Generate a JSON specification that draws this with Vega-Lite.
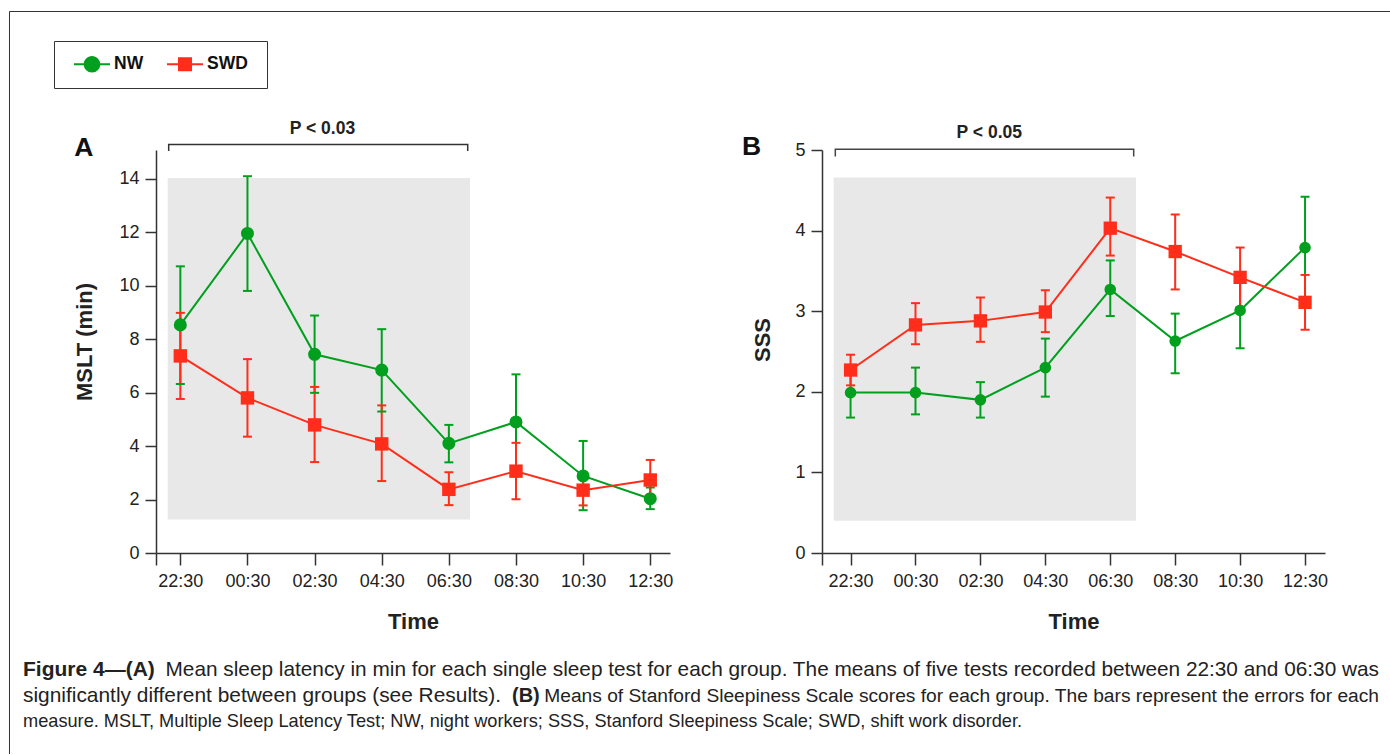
{
  "$schema": "https://vega.github.io/schema/vega-lite/v6.json",
  "padding": {"left": 8, "top": 11, "right": 0, "bottom": 0},
  "background": "white",
  "config": {
    "view": {"stroke": null},
    "font": "Liberation Sans",
    "axis": {
      "domainColor": "#333", "domainWidth": 1.5, "tickColor": "#333", "tickWidth": 1.5, "grid": false,
      "labelFont": "Liberation Sans", "labelFontSize": 18, "labelColor": "#222",
      "titleFont": "Liberation Sans", "titleFontSize": 22, "titleFontWeight": "bold", "titleColor": "#222",
      "labelOverlap": false, "labelFlush": false
    },
    "axisX": {"tickSize": 12, "labelPadding": 7, "titlePadding": 21},
    "axisY": {"tickSize": 11, "labelPadding": 6}
  },
  "datasets": {
    "series": [
      {"panel": "A", "group": "NW", "time": "2000-01-01T22:30", "mean": 8.53, "lo": 6.32, "hi": 10.72},
      {"panel": "A", "group": "NW", "time": "2000-01-02T00:30", "mean": 11.95, "lo": 9.8, "hi": 14.09},
      {"panel": "A", "group": "NW", "time": "2000-01-02T02:30", "mean": 7.43, "lo": 5.99, "hi": 8.88},
      {"panel": "A", "group": "NW", "time": "2000-01-02T04:30", "mean": 6.84, "lo": 5.29, "hi": 8.37},
      {"panel": "A", "group": "NW", "time": "2000-01-02T06:30", "mean": 4.1, "lo": 3.39, "hi": 4.79},
      {"panel": "A", "group": "NW", "time": "2000-01-02T08:30", "mean": 4.9, "lo": 3.1, "hi": 6.68},
      {"panel": "A", "group": "NW", "time": "2000-01-02T10:30", "mean": 2.88, "lo": 1.6, "hi": 4.19},
      {"panel": "A", "group": "NW", "time": "2000-01-02T12:30", "mean": 2.03, "lo": 1.64, "hi": 2.45},
      {"panel": "A", "group": "SWD", "time": "2000-01-01T22:30", "mean": 7.37, "lo": 5.76, "hi": 8.98},
      {"panel": "A", "group": "SWD", "time": "2000-01-02T00:30", "mean": 5.8, "lo": 4.35, "hi": 7.25},
      {"panel": "A", "group": "SWD", "time": "2000-01-02T02:30", "mean": 4.79, "lo": 3.4, "hi": 6.21},
      {"panel": "A", "group": "SWD", "time": "2000-01-02T04:30", "mean": 4.08, "lo": 2.69, "hi": 5.52},
      {"panel": "A", "group": "SWD", "time": "2000-01-02T06:30", "mean": 2.38, "lo": 1.79, "hi": 3.02},
      {"panel": "A", "group": "SWD", "time": "2000-01-02T08:30", "mean": 3.06, "lo": 2.01, "hi": 4.12},
      {"panel": "A", "group": "SWD", "time": "2000-01-02T10:30", "mean": 2.35, "lo": 1.78, "hi": 2.92},
      {"panel": "A", "group": "SWD", "time": "2000-01-02T12:30", "mean": 2.73, "lo": 1.98, "hi": 3.48},
      {"panel": "B", "group": "NW", "time": "2000-01-01T22:30", "mean": 1.99, "lo": 1.68, "hi": 2.3},
      {"panel": "B", "group": "NW", "time": "2000-01-02T00:30", "mean": 1.99, "lo": 1.72, "hi": 2.3},
      {"panel": "B", "group": "NW", "time": "2000-01-02T02:30", "mean": 1.9, "lo": 1.68, "hi": 2.12},
      {"panel": "B", "group": "NW", "time": "2000-01-02T04:30", "mean": 2.3, "lo": 1.94, "hi": 2.66},
      {"panel": "B", "group": "NW", "time": "2000-01-02T06:30", "mean": 3.27, "lo": 2.94, "hi": 3.63},
      {"panel": "B", "group": "NW", "time": "2000-01-02T08:30", "mean": 2.63, "lo": 2.23, "hi": 2.97},
      {"panel": "B", "group": "NW", "time": "2000-01-02T10:30", "mean": 3.01, "lo": 2.54, "hi": 3.48},
      {"panel": "B", "group": "NW", "time": "2000-01-02T12:30", "mean": 3.79, "lo": 3.16, "hi": 4.42},
      {"panel": "B", "group": "SWD", "time": "2000-01-01T22:30", "mean": 2.27, "lo": 2.08, "hi": 2.46},
      {"panel": "B", "group": "SWD", "time": "2000-01-02T00:30", "mean": 2.83, "lo": 2.59, "hi": 3.1},
      {"panel": "B", "group": "SWD", "time": "2000-01-02T02:30", "mean": 2.88, "lo": 2.62, "hi": 3.17},
      {"panel": "B", "group": "SWD", "time": "2000-01-02T04:30", "mean": 2.99, "lo": 2.74, "hi": 3.26},
      {"panel": "B", "group": "SWD", "time": "2000-01-02T06:30", "mean": 4.03, "lo": 3.69, "hi": 4.41},
      {"panel": "B", "group": "SWD", "time": "2000-01-02T08:30", "mean": 3.74, "lo": 3.27, "hi": 4.2},
      {"panel": "B", "group": "SWD", "time": "2000-01-02T10:30", "mean": 3.42, "lo": 3.05, "hi": 3.79},
      {"panel": "B", "group": "SWD", "time": "2000-01-02T12:30", "mean": 3.11, "lo": 2.77, "hi": 3.45}
    ],
    "notes": [
      {"panel": "A", "kind": "shade", "t": "2000-01-01T22:07:24", "t2": "2000-01-02T07:07:48", "v": 1.25, "v2": 14.02},
      {"panel": "A", "kind": "bracket", "k": 0, "t": "2000-01-01T22:09:12", "v": 15.03},
      {"panel": "A", "kind": "bracket", "k": 1, "t": "2000-01-01T22:09:12", "v": 15.28},
      {"panel": "A", "kind": "bracket", "k": 2, "t": "2000-01-02T07:03:42", "v": 15.28},
      {"panel": "A", "kind": "bracket", "k": 3, "t": "2000-01-02T07:03:42", "v": 15.03},
      {"panel": "A", "kind": "ptext", "t": "2000-01-02T02:44:06", "v": 15.668, "label": "P < 0.03"},
      {"panel": "A", "kind": "tag", "t": "2000-01-01T19:37:26", "v": 14.846, "label": "A"},
      {"panel": "B", "kind": "shade", "t": "2000-01-01T21:58:48", "t2": "2000-01-02T07:17:36", "v": 0.4, "v2": 4.66},
      {"panel": "B", "kind": "bracket", "k": 0, "t": "2000-01-01T22:01:48", "v": 4.92},
      {"panel": "B", "kind": "bracket", "k": 1, "t": "2000-01-01T22:01:48", "v": 5.01},
      {"panel": "B", "kind": "bracket", "k": 2, "t": "2000-01-02T07:13:18", "v": 5.01},
      {"panel": "B", "kind": "bracket", "k": 3, "t": "2000-01-02T07:13:18", "v": 4.92},
      {"panel": "B", "kind": "ptext", "t": "2000-01-02T02:46:24", "v": 5.148, "label": "P < 0.05"},
      {"panel": "B", "kind": "tag", "t": "2000-01-01T19:26:54", "v": 4.94, "label": "B"}
    ],
    "caption": [
      {"part": "boldA", "text": "Figure 4—(A)"},
      {"part": "r1", "text": "Mean sleep latency in min for each single sleep test for each group. The means of five tests recorded between 22:30 and 06:30 was"},
      {"part": "l2", "text": "significantly different between groups (see Results)."},
      {"part": "boldB", "text": "(B)"},
      {"part": "r2", "text": "Means of Stanford Sleepiness Scale scores for each group. The bars represent the errors for each"},
      {"part": "l3", "text": "measure. MSLT, Multiple Sleep Latency Test; NW, night workers; SSS, Stanford Sleepiness Scale; SWD, shift work disorder."}
    ]
  },
  "resolve": {"scale": {"color": "independent", "shape": "independent"}},
  "bounds": "flush",
  "spacing": 152,
  "hconcat": [
    {
      "width": 514,
      "height": 403,
      "layer": [
        {
          "data": {"name": "notes"},
          "transform": [{"filter": "datum.panel === 'A' && datum.kind === 'shade'"}],
          "mark": {"type": "rect", "color": "#e8e8e8"},
          "encoding": {
            "x": {"field": "t", "type": "temporal",
              "scale": {"domain": [{"year": 2000, "month": 1, "date": 1, "hours": 21, "minutes": 46, "seconds": 30}, {"year": 2000, "month": 1, "date": 2, "hours": 13, "minutes": 5, "seconds": 18}], "nice": false},
              "axis": {"title": "Time", "labelExpr": "timeFormat(datum.value, '%M') === '30' ? timeFormat(datum.value, '%H:%M') : ''", "values": [
                {"year": 2000, "month": 1, "date": 1, "hours": 21, "minutes": 46, "seconds": 30},
                {"year": 2000, "month": 1, "date": 1, "hours": 22, "minutes": 30},
                {"year": 2000, "month": 1, "date": 2, "hours": 0, "minutes": 30},
                {"year": 2000, "month": 1, "date": 2, "hours": 2, "minutes": 30},
                {"year": 2000, "month": 1, "date": 2, "hours": 4, "minutes": 30},
                {"year": 2000, "month": 1, "date": 2, "hours": 6, "minutes": 30},
                {"year": 2000, "month": 1, "date": 2, "hours": 8, "minutes": 30},
                {"year": 2000, "month": 1, "date": 2, "hours": 10, "minutes": 30},
                {"year": 2000, "month": 1, "date": 2, "hours": 12, "minutes": 30}]}},
            "x2": {"field": "t2"},
            "y": {"field": "v", "type": "quantitative", "scale": {"domain": [0, 15.07], "nice": false, "zero": false},
              "axis": {"title": "MSLT (min)", "values": [0, 2, 4, 6, 8, 10, 12, 14], "format": "d", "titlePadding": 22, "titleY": 191.5}},
            "y2": {"field": "v2"}
          }
        },
        {
          "data": {"name": "notes"},
          "transform": [{"filter": "datum.panel === 'A' && datum.kind === 'bracket'"}],
          "mark": {"type": "line", "color": "#333", "strokeWidth": 1.5},
          "encoding": {"x": {"field": "t", "type": "temporal"}, "y": {"field": "v", "type": "quantitative"}, "order": {"field": "k"}}
        },
        {
          "data": {"name": "notes"},
          "transform": [{"filter": "datum.panel === 'A' && datum.kind === 'ptext'"}],
          "mark": {"type": "text", "align": "center", "baseline": "alphabetic", "font": "Liberation Sans", "fontWeight": "bold", "fontSize": 17.5, "color": "#222"},
          "encoding": {"x": {"field": "t", "type": "temporal"}, "y": {"field": "v", "type": "quantitative"}, "text": {"field": "label"}}
        },
        {
          "data": {"name": "notes"},
          "transform": [{"filter": "datum.panel === 'A' && datum.kind === 'tag'"}],
          "mark": {"type": "text", "align": "center", "baseline": "alphabetic", "font": "Liberation Sans", "fontWeight": "bold", "fontSize": 26.5, "color": "#111"},
          "encoding": {"x": {"field": "t", "type": "temporal"}, "y": {"field": "v", "type": "quantitative"}, "text": {"field": "label"}}
        },
        {
          "data": {"values": [{}]},
          "mark": {"type": "rule", "color": "#333", "strokeWidth": 1},
          "encoding": {
            "x": {"datum": {"year": 2000, "month": 1, "date": 1, "hours": 17, "minutes": 24, "seconds": 37}, "type": "temporal"},
            "y": {"datum": 20.249, "type": "quantitative"},
            "y2": {"datum": -7.516}
          }
        },
        {
          "data": {"values": [{}]},
          "mark": {"type": "rule", "color": "#333", "strokeWidth": 1},
          "encoding": {
            "x": {"datum": {"year": 2000, "month": 1, "date": 1, "hours": 17, "minutes": 24, "seconds": 37}, "type": "temporal"},
            "x2": {"datum": {"year": 2000, "month": 1, "date": 3, "hours": 10, "minutes": 32, "seconds": 21}},
            "y": {"datum": 20.249, "type": "quantitative"}
          }
        },
        {
          "data": {"name": "caption"},
          "transform": [{"filter": "datum.part === 'boldA'"}],
          "mark": {"type": "text", "align": "left", "baseline": "alphabetic", "font": "Liberation Sans", "fontWeight": "bold", "fontSize": 21, "color": "#222"},
          "encoding": {"x": {"datum": {"year": 2000, "month": 1, "date": 1, "hours": 17, "minutes": 48, "seconds": 46}, "type": "temporal"}, "y": {"datum": -4.618, "type": "quantitative"}, "text": {"field": "text"}}
        },
        {
          "data": {"name": "caption"},
          "transform": [{"filter": "datum.part === 'r1'"}],
          "mark": {"type": "text", "align": "right", "baseline": "alphabetic", "font": "Liberation Sans", "fontSize": 20.8, "color": "#222"},
          "encoding": {"x": {"datum": {"year": 2000, "month": 1, "date": 3, "hours": 10, "minutes": 12, "seconds": 41}, "type": "temporal"}, "y": {"datum": -4.618, "type": "quantitative"}, "text": {"field": "text"}}
        },
        {
          "data": {"name": "caption"},
          "transform": [{"filter": "datum.part === 'l2'"}],
          "mark": {"type": "text", "align": "left", "baseline": "alphabetic", "font": "Liberation Sans", "fontSize": 20.9, "color": "#222"},
          "encoding": {"x": {"datum": {"year": 2000, "month": 1, "date": 1, "hours": 17, "minutes": 48, "seconds": 46}, "type": "temporal"}, "y": {"datum": -5.572, "type": "quantitative"}, "text": {"field": "text"}}
        },
        {
          "data": {"name": "caption"},
          "transform": [{"filter": "datum.part === 'boldB'"}],
          "mark": {"type": "text", "align": "left", "baseline": "alphabetic", "font": "Liberation Sans", "fontWeight": "bold", "fontSize": 20, "color": "#222"},
          "encoding": {"x": {"datum": {"year": 2000, "month": 1, "date": 2, "hours": 8, "minutes": 22, "seconds": 52}, "type": "temporal"}, "y": {"datum": -5.572, "type": "quantitative"}, "text": {"field": "text"}}
        },
        {
          "data": {"name": "caption"},
          "transform": [{"filter": "datum.part === 'r2'"}],
          "mark": {"type": "text", "align": "right", "baseline": "alphabetic", "font": "Liberation Sans", "fontSize": 19.2, "color": "#222"},
          "encoding": {"x": {"datum": {"year": 2000, "month": 1, "date": 3, "hours": 10, "minutes": 12, "seconds": 41}, "type": "temporal"}, "y": {"datum": -5.572, "type": "quantitative"}, "text": {"field": "text"}}
        },
        {
          "data": {"name": "caption"},
          "transform": [{"filter": "datum.part === 'l3'"}],
          "mark": {"type": "text", "align": "left", "baseline": "alphabetic", "font": "Liberation Sans", "fontSize": 18.2, "color": "#222"},
          "encoding": {"x": {"datum": {"year": 2000, "month": 1, "date": 1, "hours": 17, "minutes": 48, "seconds": 46}, "type": "temporal"}, "y": {"datum": -6.525, "type": "quantitative"}, "text": {"field": "text"}}
        },
        {
          "data": {"name": "series"},
          "transform": [{"filter": "datum.panel === 'A'"}],
          "encoding": {
            "x": {"field": "time", "type": "temporal"},
            "color": {"field": "group", "type": "nominal", "scale": {"domain": ["NW", "SWD"], "range": ["#00A01E", "#FF2D1A"]},
              "legend": {"orient": "none", "legendX": -102, "legendY": -109, "direction": "horizontal", "title": null,
                "strokeColor": "#333", "fillColor": "white", "padding": 5, "labelFont": "Liberation Sans", "labelFontWeight": "bold", "labelFontSize": 17.5, "labelColor": "#111", "labelOffset": 4, "symbolOffset": 15, "columnPadding": 8, "symbolSize": 1296, "symbolStrokeWidth": 0, "symbolOpacity": 1}}
          },
          "layer": [
            {"transform": [{"filter": "false"}], "mark": {"type": "point", "filled": true, "opacity": 1, "strokeWidth": 0},
              "encoding": {"y": {"field": "mean", "type": "quantitative"},
                "shape": {"field": "group", "type": "nominal",
                  "scale": {"domain": ["NW", "SWD"], "range": ["M-1,-1.03M-1,1.03M-1,-0.06H1V0.06H-1ZM-0.46,0A0.46,0.46,0,1,1,0.46,0A0.46,0.46,0,1,1,-0.46,0Z", "M4.25,-1.03M4.25,1.03M-1,-0.06H1V0.06H-1ZM-0.39,-0.39H0.39V0.39H-0.39Z"]},
                  "legend": {"orient": "none", "legendX": -102, "legendY": -109, "direction": "horizontal", "title": null,
                    "strokeColor": "#333", "fillColor": "white", "padding": 5, "labelFont": "Liberation Sans", "labelFontWeight": "bold", "labelFontSize": 17.5, "labelColor": "#111", "labelOffset": 4, "symbolOffset": 15, "columnPadding": 8, "symbolSize": 1296, "symbolStrokeWidth": 0, "symbolOpacity": 1}}}},
            {"mark": {"type": "rule", "strokeWidth": 2}, "encoding": {"y": {"field": "lo", "type": "quantitative"}, "y2": {"field": "hi"}}},
            {"mark": {"type": "tick", "orient": "horizontal", "size": 9, "thickness": 2, "opacity": 1}, "encoding": {"y": {"field": "lo", "type": "quantitative"}}},
            {"mark": {"type": "tick", "orient": "horizontal", "size": 9, "thickness": 2, "opacity": 1}, "encoding": {"y": {"field": "hi", "type": "quantitative"}}},
            {"mark": {"type": "line", "strokeWidth": 2}, "encoding": {"y": {"field": "mean", "type": "quantitative"}}},
            {"transform": [{"filter": "datum.group === 'NW'"}], "mark": {"type": "point", "shape": "circle", "size": 170, "filled": true, "opacity": 1, "strokeWidth": 0}, "encoding": {"y": {"field": "mean", "type": "quantitative"}}},
            {"transform": [{"filter": "datum.group === 'SWD'"}], "mark": {"type": "point", "shape": "square", "size": 180, "filled": true, "opacity": 1, "strokeWidth": 0}, "encoding": {"y": {"field": "mean", "type": "quantitative"}}}
          ]
        }
      ]
    },
    {
      "width": 503,
      "height": 403,
      "layer": [
        {
          "data": {"name": "notes"},
          "transform": [{"filter": "datum.panel === 'B' && datum.kind === 'shade'"}],
          "mark": {"type": "rect", "color": "#e8e8e8"},
          "encoding": {
            "x": {"field": "t", "type": "temporal",
              "scale": {"domain": [{"year": 2000, "month": 1, "date": 1, "hours": 21, "minutes": 37, "seconds": 12}, {"year": 2000, "month": 1, "date": 2, "hours": 13, "minutes": 6, "seconds": 54}], "nice": false},
              "axis": {"title": "Time", "labelExpr": "timeFormat(datum.value, '%M') === '30' ? timeFormat(datum.value, '%H:%M') : ''", "values": [
                {"year": 2000, "month": 1, "date": 1, "hours": 21, "minutes": 37, "seconds": 12},
                {"year": 2000, "month": 1, "date": 1, "hours": 22, "minutes": 30},
                {"year": 2000, "month": 1, "date": 2, "hours": 0, "minutes": 30},
                {"year": 2000, "month": 1, "date": 2, "hours": 2, "minutes": 30},
                {"year": 2000, "month": 1, "date": 2, "hours": 4, "minutes": 30},
                {"year": 2000, "month": 1, "date": 2, "hours": 6, "minutes": 30},
                {"year": 2000, "month": 1, "date": 2, "hours": 8, "minutes": 30},
                {"year": 2000, "month": 1, "date": 2, "hours": 10, "minutes": 30},
                {"year": 2000, "month": 1, "date": 2, "hours": 12, "minutes": 30}]}},
            "x2": {"field": "t2"},
            "y": {"field": "v", "type": "quantitative", "scale": {"domain": [0, 5], "nice": false, "zero": false},
              "axis": {"title": "SSS", "values": [0, 1, 2, 3, 4, 5], "format": "d", "titlePadding": 20, "titleY": 189.5}},
            "y2": {"field": "v2"}
          }
        },
        {
          "data": {"name": "notes"},
          "transform": [{"filter": "datum.panel === 'B' && datum.kind === 'bracket'"}],
          "mark": {"type": "line", "color": "#444", "strokeWidth": 1.5},
          "encoding": {"x": {"field": "t", "type": "temporal"}, "y": {"field": "v", "type": "quantitative"}, "order": {"field": "k"}}
        },
        {
          "data": {"name": "notes"},
          "transform": [{"filter": "datum.panel === 'B' && datum.kind === 'ptext'"}],
          "mark": {"type": "text", "align": "center", "baseline": "alphabetic", "font": "Liberation Sans", "fontWeight": "bold", "fontSize": 17.5, "color": "#222"},
          "encoding": {"x": {"field": "t", "type": "temporal"}, "y": {"field": "v", "type": "quantitative"}, "text": {"field": "label"}}
        },
        {
          "data": {"name": "notes"},
          "transform": [{"filter": "datum.panel === 'B' && datum.kind === 'tag'"}],
          "mark": {"type": "text", "align": "center", "baseline": "alphabetic", "font": "Liberation Sans", "fontWeight": "bold", "fontSize": 26.5, "color": "#111"},
          "encoding": {"x": {"field": "t", "type": "temporal"}, "y": {"field": "v", "type": "quantitative"}, "text": {"field": "label"}}
        },
        {
          "data": {"name": "series"},
          "transform": [{"filter": "datum.panel === 'B'"}],
          "encoding": {
            "x": {"field": "time", "type": "temporal"},
            "color": {"field": "group", "type": "nominal", "scale": {"domain": ["NW", "SWD"], "range": ["#00A01E", "#FF2D1A"]}, "legend": null}
          },
          "layer": [
            {"mark": {"type": "rule", "strokeWidth": 2}, "encoding": {"y": {"field": "lo", "type": "quantitative"}, "y2": {"field": "hi"}}},
            {"mark": {"type": "tick", "orient": "horizontal", "size": 9, "thickness": 2, "opacity": 1}, "encoding": {"y": {"field": "lo", "type": "quantitative"}}},
            {"mark": {"type": "tick", "orient": "horizontal", "size": 9, "thickness": 2, "opacity": 1}, "encoding": {"y": {"field": "hi", "type": "quantitative"}}},
            {"mark": {"type": "line", "strokeWidth": 2}, "encoding": {"y": {"field": "mean", "type": "quantitative"}}},
            {"transform": [{"filter": "datum.group === 'NW'"}], "mark": {"type": "point", "shape": "circle", "size": 135, "filled": true, "opacity": 1, "strokeWidth": 0}, "encoding": {"y": {"field": "mean", "type": "quantitative"}}},
            {"transform": [{"filter": "datum.group === 'SWD'"}], "mark": {"type": "point", "shape": "square", "size": 177, "filled": true, "opacity": 1, "strokeWidth": 0}, "encoding": {"y": {"field": "mean", "type": "quantitative"}}}
          ]
        }
      ]
    }
  ]
}
